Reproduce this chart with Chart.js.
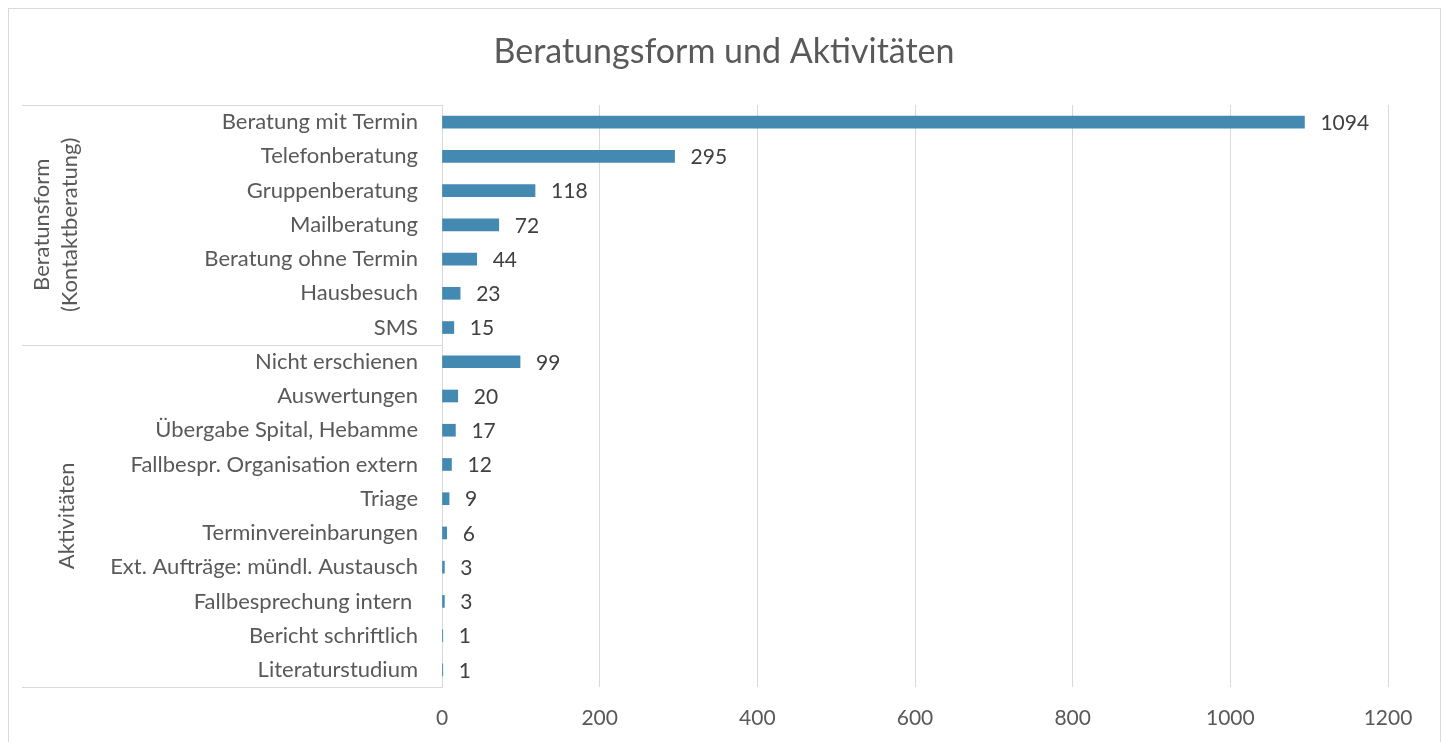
<!DOCTYPE html>
<html>
  <head>
    <meta charset="UTF-8" />
    <title>Beratungsform und Aktivitäten</title>
    <style>
      html,
      body {
        margin: 0;
        padding: 0;
        width: 100%;
        height: 100%;
        background: #ffffff;
      }
      .chart-container {
        width: 1442px;
        height: 742px;
        position: relative;
      }
    </style>
    <script src="https://cdn.jsdelivr.net/npm/chart.js"></script>
  </head>
  <body>
    <div class="chart-container">
      <canvas id="chart"></canvas>
    </div>
    <script>
      const chartTitle = "Beratungsform und Aktivitäten";

      // Kategorien (von oben nach unten)
      const categories = [
        "Beratung mit Termin",
        "Telefonberatung",
        "Gruppenberatung",
        "Mailberatung",
        "Beratung ohne Termin",
        "Hausbesuch",
        "SMS",
        "Nicht erschienen",
        "Auswertungen",
        "Übergabe Spital, Hebamme",
        "Fallbespr. Organisation extern",
        "Triage",
        "Terminvereinbarungen",
        "Ext. Aufträge: mündl. Austausch",
        "Fallbesprechung intern ",
        "Bericht schriftlich",
        "Literaturstudium",
      ];
      const values = [1094, 295, 118, 72, 44, 23, 15, 99, 20, 17, 12, 9, 6, 3, 3, 1, 1];

      // Obergruppen: Name und Anzahl Kategorien
      const groupNames = [["Beratunsform", "(Kontaktberatung)"], ["Aktivitäten"]];
      const groupSizes = [7, 10];

      const xTicks = [0, 200, 400, 600, 800, 1000, 1200];

      const FONT = "Lato, 'Noto Sans', sans-serif";
      const TEXT = "#595959";
      const LINE = "#d9d9d9";

      // Rahmen, Titel, Gruppenlinien und Gruppenbeschriftungen
      const groupPlugin = {
        id: "groups",
        beforeDraw(chart) {
          const ctx = chart.ctx;
          ctx.save();
          ctx.strokeStyle = LINE;
          ctx.lineWidth = 1;
          ctx.strokeRect(8.5, 8.5, chart.width - 10, chart.height + 10);
          // Titel über dem ganzen Diagrammrahmen zentriert
          ctx.fillStyle = TEXT;
          ctx.font = "34px " + FONT;
          ctx.textAlign = "center";
          ctx.textBaseline = "middle";
          ctx.fillText(chartTitle, (8 + chart.width - 2) / 2, 52);
          ctx.restore();
        },
        afterDraw(chart) {
          const ctx = chart.ctx;
          const area = chart.chartArea;
          const band = (area.bottom - area.top) / categories.length;
          ctx.save();
          ctx.strokeStyle = LINE;
          ctx.lineWidth = 1;
          let start = 0;
          const edges = [area.top];
          groupSizes.forEach((n) => {
            start += n;
            edges.push(area.top + start * band);
          });
          edges.forEach((e) => {
            ctx.beginPath();
            ctx.moveTo(22, Math.round(e) + 0.5);
            ctx.lineTo(area.left, Math.round(e) + 0.5);
            ctx.stroke();
          });
          ctx.fillStyle = TEXT;
          ctx.font = "22px " + FONT;
          ctx.textAlign = "center";
          ctx.textBaseline = "middle";
          groupNames.forEach((lines, i) => {
            const cy = (edges[i] + edges[i + 1]) / 2;
            const lh = 28;
            const cx = lines.length > 1 ? 56 : 67;
            ctx.save();
            ctx.translate(cx, cy);
            ctx.rotate(-Math.PI / 2);
            lines.forEach((t, j) => {
              ctx.fillText(t, 0, (j - (lines.length - 1) / 2) * lh);
            });
            ctx.restore();
          });
          ctx.restore();
        },
        afterDatasetsDraw(chart) {
          const ctx = chart.ctx;
          const meta = chart.getDatasetMeta(0);
          ctx.save();
          ctx.fillStyle = "#404040";
          ctx.font = "21px " + FONT;
          ctx.textAlign = "left";
          ctx.textBaseline = "middle";
          meta.data.forEach((bar, i) => {
            ctx.fillText(String(values[i]), bar.x + 16, bar.y + 1);
          });
          ctx.restore();
        },
      };

      const ctx = document.getElementById("chart").getContext("2d");
      new Chart(ctx, {
        type: "bar",
        data: {
          labels: categories,
          datasets: [
            {
              data: values,
              backgroundColor: "#4389b2",
              borderWidth: 0,
              barThickness: 12,
            },
          ],
        },
        options: {
          indexAxis: "y",
          responsive: true,
          maintainAspectRatio: false,
          animation: false,
          layout: { padding: { left: 0, right: 54, top: 105, bottom: 0 } },
          plugins: {
            legend: { display: false },
            tooltip: { enabled: false },
            title: { display: false },
          },
          scales: {
            x: {
              min: 0,
              max: 1200,
              afterBuildTicks(scale) {
                scale.ticks = xTicks.map((v) => ({ value: v }));
              },
              afterFit(scale) {
                scale.height = 55;
              },
              grid: { color: LINE, drawTicks: false },
              border: { display: false },
              ticks: {
                color: TEXT,
                padding: 19,
                font: { family: FONT, size: 21 },
                callback: (v) => String(v),
              },
            },
            y: {
              afterFit(scale) {
                scale.width = 442;
              },
              grid: { display: false, drawTicks: false },
              border: { display: true, color: LINE },
              ticks: {
                color: TEXT,
                padding: 24,
                autoSkip: false,
                font: { family: FONT, size: 22 },
              },
            },
          },
        },
        plugins: [groupPlugin],
      });
    </script>
  </body>
</html>
